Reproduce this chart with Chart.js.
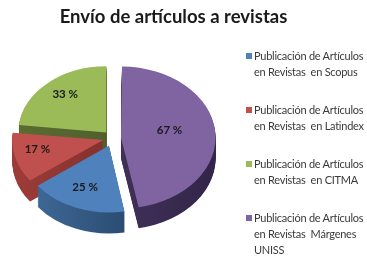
<!DOCTYPE html>
<html>
<head>
<meta charset="utf-8">
<script src="https://cdn.jsdelivr.net/npm/chart.js@4.4.0/dist/chart.umd.min.js"></script>
<style>
    html, body { margin: 0; padding: 0; background: #fff; }
    #wrap { position: relative; width: 367px; height: 258px; overflow: hidden; font-family: Lato, sans-serif; }
    #grafica { position: absolute; left: 0; top: 0; }
    #titulo { position: absolute; left: 0; top: 5px; width: 347px; text-align: center;
        font-weight: bold; font-size: 18.5px; color: #1a1a1a; white-space: nowrap; }
    #leyenda { position: absolute; left: 246px; top: 48px; }
    .item { position: relative; padding-left: 8px; margin-bottom: 22px; font-size: 11px;
        letter-spacing: -0.25px; line-height: 16px; color: #3a3a3a; white-space: pre; }
    .item span.caja { position: absolute; left: 0; top: 5px; width: 6px; height: 6px; }
</style>
</head>
<body>
<div id="wrap">
    <canvas id="grafica" width="367" height="258"></canvas>
    <div id="titulo"></div>
    <div id="leyenda"></div>
</div>
<script>
// Datos de la grafica
var titulo = 'Envío de artículos a revistas';
var categorias = [
    ['Publicación de Artículos', 'en Revistas  en Scopus'],
    ['Publicación de Artículos', 'en Revistas  en Latindex'],
    ['Publicación de Artículos', 'en Revistas  en CITMA'],
    ['Publicación de Artículos', 'en Revistas  Márgenes', 'UNISS']
];
var valores = [25, 17, 33, 67];
var etiquetas = ['25 %', '17 %', '33 %', '67 %'];
var colores = ['#4F81BD', '#C0504D', '#9BBB59', '#8064A2'];
// lado del cilindro: claro a la izquierda, oscuro a la derecha
var ladoClaro = ['#416c9c', '#9c3c39', '#5a6c31', '#4a3a64'];
var ladoOscuro = ['#1c3756', '#6e2624', '#45542a', '#33264a'];
// separacion de cada sector (chart.js desplaza offset/4 pixeles)
var separacion = [44, 40, 40, 32];

var inclinacion = 0.75;  // aplastamiento vertical de la tarta
var grosor = 21;         // profundidad del efecto 3D

document.getElementById('titulo').textContent = titulo;

// Leyenda en HTML (texto de varias lineas)
var leyenda = document.getElementById('leyenda');
for (var i = 0; i < categorias.length; i++) {
    var div = document.createElement('div');
    div.className = 'item';
    var caja = document.createElement('span');
    caja.className = 'caja';
    caja.style.background = colores[i];
    div.appendChild(caja);
    div.appendChild(document.createTextNode(categorias[i].join('\n')));
    leyenda.appendChild(div);
}

// Dibuja una copia del sector con otro color (misma geometria que chart.js).
function dibujarCopia(ctx, arc, color) {
    var copia = Object.create(Object.getPrototypeOf(arc));
    Object.assign(copia, arc);
    copia.options = Object.assign({}, arc.options, { backgroundColor: color });
    copia.draw(ctx);
}

var pastel3d = {
    id: 'pastel3d',
    beforeDatasetsDraw: function (chart) {
        var ctx = chart.ctx;
        var arcs = chart.getDatasetMeta(0).data;
        var cy = arcs[0].y;
        var gradientes = [];
        for (var i = 0; i < arcs.length; i++) {
            var a = arcs[i];
            var g = ctx.createLinearGradient(a.x - a.outerRadius, 0, a.x + a.outerRadius, 0);
            g.addColorStop(0, ladoClaro[i]);
            g.addColorStop(1, ladoOscuro[i]);
            gradientes.push(g);
        }
        for (var d = grosor; d > 0; d--) {
            ctx.save();
            ctx.translate(0, cy + d);
            ctx.scale(1, inclinacion);
            ctx.translate(0, -cy);
            for (var j = 0; j < arcs.length; j++) {
                dibujarCopia(ctx, arcs[j], gradientes[j]);
            }
            ctx.restore();
        }
        ctx.save();
        ctx.translate(0, cy);
        ctx.scale(1, inclinacion);
        ctx.translate(0, -cy);
    },
    afterDatasetsDraw: function (chart) {
        var ctx = chart.ctx;
        ctx.restore();
        var arcs = chart.getDatasetMeta(0).data;
        ctx.save();
        ctx.font = 'bold 11.5px Lato, sans-serif';
        ctx.fillStyle = '#1a1a1a';
        ctx.textAlign = 'center';
        ctx.textBaseline = 'middle';
        for (var i = 0; i < arcs.length; i++) {
            var arc = arcs[i];
            var mid = (arc.startAngle + arc.endAngle) / 2;
            var medio = arc.circumference / 2;
            var tras = (arc.options.offset || 0) / 4;
            var fix = 1 - Math.sin(Math.min(Math.PI, arc.circumference));
            var radio = arc.outerRadius + tras * fix;
            // centroide del sector, algo hacia fuera
            var frac = 1.15 * 2 * Math.sin(medio) / (3 * medio);
            var dist = tras + frac * radio;
            var x = arc.x + Math.cos(mid) * dist;
            var y = arc.y + Math.sin(mid) * dist * inclinacion - 4;
            ctx.fillText(etiquetas[i], x, y);
        }
        ctx.restore();
    }
};

var total = valores.reduce(function (a, b) { return a + b; }, 0);

var chart = new Chart(document.getElementById('grafica').getContext('2d'), {
    type: 'pie',
    data: {
        labels: categorias,
        datasets: [{
            data: valores,
            backgroundColor: colores,
            borderWidth: 0,
            offset: separacion
        }]
    },
    options: {
        responsive: false,
        animation: false,
        events: [],
        radius: 88,
        rotation: 360 * valores[3] / total,
        layout: { padding: { left: 0, right: 141, top: 30, bottom: 12 } },
        plugins: {
            legend: { display: false },
            title: { display: false },
            tooltip: { enabled: false }
        }
    },
    plugins: [pastel3d]
});
</script>
</body>
</html>
